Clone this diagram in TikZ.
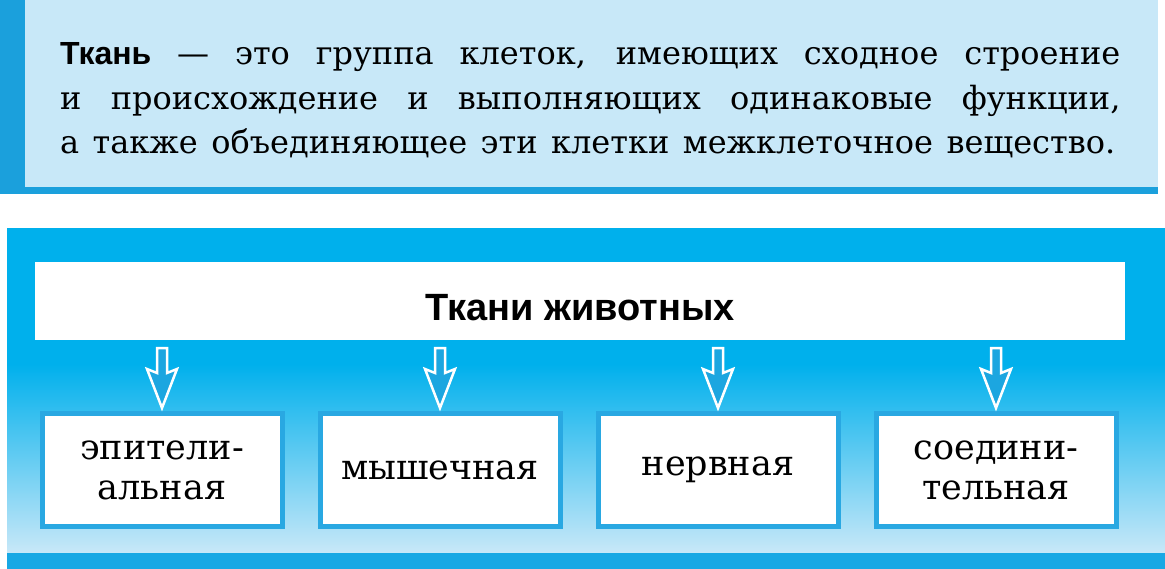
\documentclass[tikz,border=0pt]{standalone}
\usepackage{fontspec}
\setmainfont{DejaVu Serif}
\newfontfamily\sansfam{Liberation Sans}
\usetikzlibrary{positioning, calc}

\definecolor{barblue}{HTML}{1BA0DC}
\definecolor{notefill}{HTML}{C8E8F8}
\definecolor{panelcyan}{HTML}{00B0EC}
\definecolor{panellight}{HTML}{C8E8F8}
\definecolor{bandblue}{HTML}{18A8E4}
\definecolor{boxline}{HTML}{29A8E2}
\definecolor{arrowin}{HTML}{1CA6E0}

\begin{document}
\begin{tikzpicture}[x = 1pt, y = -1pt,
    defline/.style = {anchor=base west, inner sep=0pt, font=\fontsize{32}{38}\selectfont},
    tissue/.style = {draw=boxline, line width=5pt, fill=white, minimum width=240pt,
        minimum height=113pt, inner sep=0pt, align=center, font=\fontsize{35}{40}\selectfont},
    hollow/.style = {draw=white, line width=2.5pt, fill=arrowin, line join=miter}]

    \useasboundingbox (0,0) rectangle (1165,569);

    % Определение
    \fill[notefill] (0,0) rectangle (1158,190);
    \fill[barblue] (0,0) rectangle (25,194);
    \fill[barblue] (0,187) rectangle (1158,194);

    \node[defline] (def1) at (60,65) {\makebox[1060pt][s]{{\sansfam\bfseries Ткань} — это группа клеток, имеющих сходное строение}};
    \node[defline] (def2) at (60,110) {\makebox[1060pt][s]{и происхождение и выполняющих одинаковые функции,}};
    \node[defline] (def3) at (60,154) {\makebox[1055pt][s]{а также объединяющее эти клетки межклеточное вещество.}};

    % Фон схемы
    \fill[panelcyan] (7,228) rectangle (1165,365);
    \shade[top color=panelcyan, bottom color=panellight] (7,364) rectangle (1165,553);
    \fill[bandblue] (7,553) rectangle (1165,569);

    % Заголовок
    \node[fill=white, minimum width=1090pt, minimum height=78pt, inner sep=0pt,
        font=\sansfam\bfseries\fontsize{38}{44}\selectfont] (head) at (580,301)
        {\raisebox{-20pt}[0pt][0pt]{Ткани животных}};

    % Виды тканей
    \node[tissue] (epi) at (162,470) {эпители-\\альная};
    \node[tissue, right=33pt of epi] (mus) {мышечная};
    \node[tissue, right=33pt of mus] (ner) {нервная};
    \node[tissue, right=33pt of ner] (con) {соедини-\\тельная};

    % Стрелки
    \foreach \b in {epi,mus,ner,con}
        \draw[hollow] ($(head.south -| \b.north)+(-5,8)$) -- ($(head.south -| \b.north)+(5,8)$)
            -- ($(\b.north)+(5,-38)$) -- ($(\b.north)+(15,-42)$) -- ($(\b.north)+(0,-3)$)
            -- ($(\b.north)+(-15,-42)$) -- ($(\b.north)+(-5,-38)$) -- cycle;

\end{tikzpicture}
\end{document}
